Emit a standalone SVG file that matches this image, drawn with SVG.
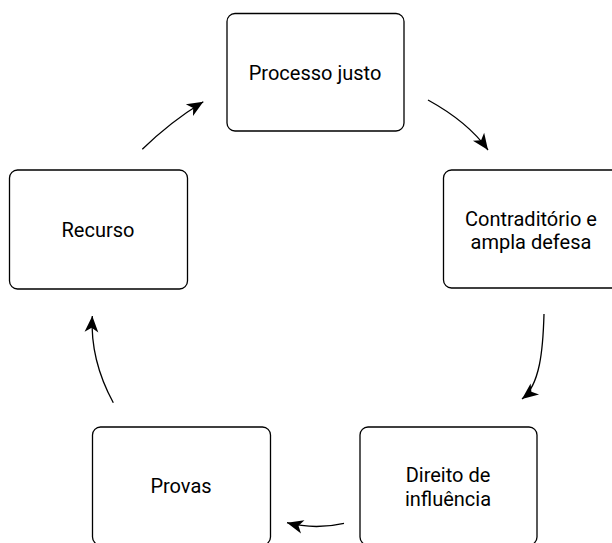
<svg xmlns="http://www.w3.org/2000/svg" width="612" height="543" viewBox="0 0 612 543">
<style>
.box{fill:#fff;stroke:#000;stroke-width:1.3}
.lbl{font-family:Roboto,"Liberation Sans",sans-serif;font-size:20px;fill:#000;text-anchor:middle}
.edge{fill:none;stroke:#000;stroke-width:1.3}
</style>
<defs>
<marker id="arr" markerUnits="userSpaceOnUse" markerWidth="20" markerHeight="20" viewBox="-14 -7 16 14" refX="0" refY="0" orient="auto">
<path d="M0,0 L-13,-5.5 L-9.5,0 L-13,5.5 Z" fill="#000"/>
</marker>
</defs>
<rect width="612" height="543" fill="#fff"/>
<g id="processo">
<rect class="box" x="227" y="13.5" width="177" height="117.5" rx="8"/>
<text class="lbl" x="315" y="80">Processo justo</text>
</g>
<g id="contraditorio">
<rect class="box" x="443.5" y="170" width="177" height="118" rx="8"/>
<text class="lbl" x="531" y="225.5">Contraditório e</text>
<text class="lbl" x="531" y="249">ampla defesa</text>
</g>
<g id="direito">
<rect class="box" x="360" y="427" width="177" height="118" rx="8"/>
<text class="lbl" x="448" y="482">Direito de</text>
<text class="lbl" x="448" y="506">influência</text>
</g>
<g id="provas">
<rect class="box" x="92.5" y="427" width="178" height="118" rx="8"/>
<text class="lbl" x="181" y="493">Provas</text>
</g>
<g id="recurso">
<rect class="box" x="9.5" y="170" width="178" height="119" rx="8"/>
<text class="lbl" x="98" y="237">Recurso</text>
</g>
<g id="connectors">
<path class="edge" d="M428,100 Q468,122 488,150" marker-end="url(#arr)"/>
<path class="edge" d="M544,314 C543,350 540,385 522,399" marker-end="url(#arr)"/>
<path class="edge" d="M344,523.3 Q315,530 287,522.7" marker-end="url(#arr)"/>
<path class="edge" d="M113.3,402.7 Q90,360 92.3,316" marker-end="url(#arr)"/>
<path class="edge" d="M142.3,149.3 Q170,122 203.3,101.7" marker-end="url(#arr)"/>
</g>
</svg>
